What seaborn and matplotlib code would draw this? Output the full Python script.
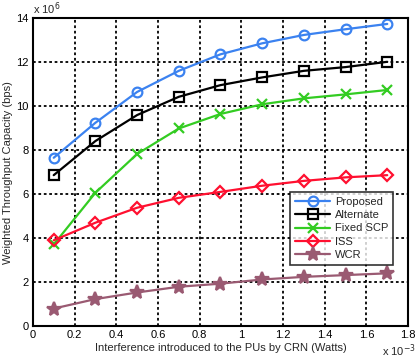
import matplotlib
matplotlib.use("Agg")
import matplotlib.pyplot as plt
import seaborn as sns
import numpy as np

# interference (x 1e-3 W) and throughput (x 1e6 bps)
interference = [0.1, 0.3, 0.5, 0.7, 0.9, 1.1, 1.3, 1.5, 1.7]
proposed = [7.65, 9.24, 10.64, 11.6, 12.35, 12.85, 13.23, 13.49, 13.73]
alternate = [6.86, 8.41, 9.59, 10.42, 10.95, 11.3, 11.6, 11.77, 12.01]
fixed_scp = [3.71, 6.06, 7.82, 8.98, 9.64, 10.08, 10.35, 10.53, 10.73]
iss = [3.9, 4.7, 5.38, 5.83, 6.1, 6.38, 6.6, 6.76, 6.86]
wcr = [0.8, 1.23, 1.53, 1.79, 1.93, 2.12, 2.24, 2.32, 2.4]

sns.set_style("white")
plt.rcParams['font.family'] = ['Liberation Sans', 'DejaVu Sans']

fig = plt.figure(figsize=(4.16, 3.6), dpi=100)
ax = fig.add_axes([0.079, 0.094, 0.902, 0.856])

series = [
    ("Proposed", proposed, "#3b82f0", "o", "none"),
    ("Alternate", alternate, "black", "s", "none"),
    ("Fixed SCP", fixed_scp, "#33cc22", "x", None),
    ("ISS", iss, "#ff1030", "D", "none"),
    ("WCR", wcr, "#9a5a72", "*", None),
]
for name, vals, col, mk, mfc in series:
    kw = dict(markerfacecolor=mfc) if mfc else {}
    ms = 7 if mk != "*" else 10
    if mk == "D":
        ms = 6
    sns.lineplot(x=interference, y=vals, ax=ax, color=col, marker=mk, markersize=ms,
                 markeredgecolor=col, markeredgewidth=1.6, linewidth=1.6, label=name, **kw)

ax.set_xlim(0, 1.8)
ax.set_ylim(0, 14)
ax.set_xticks(np.arange(0, 1.81, 0.2))
ax.set_xticklabels(["0", "0.2", "0.4", "0.6", "0.8", "1", "1.2", "1.4", "1.6", "1.8"])
ax.set_yticks(range(0, 15, 2))
ax.tick_params(labelsize=8, direction="in", length=3, width=1, colors="black", pad=3)
ax.grid(True, color="black", linestyle=(0, (1.5, 1.5)), linewidth=1.3)
for sp in ax.spines.values():
    sp.set_color("black")
    sp.set_linewidth(1.5)

ax.set_xlabel("Interference introduced to the PUs by CRN (Watts)", fontsize=8, labelpad=2)
ax.set_ylabel("Weighted Throughput Capacity (bps)", fontsize=8, labelpad=2)
ax.text(0.0, 1.003, "x 10$^{6}$", transform=ax.transAxes, fontsize=8, va="bottom")
ax.text(0.93, -0.08, "x 10$^{-3}$", transform=ax.transAxes, fontsize=8, va="center")

leg = ax.legend(loc="lower right", bbox_to_anchor=(0.975, 0.18), fontsize=8, frameon=True,
                fancybox=False, edgecolor="black", handlelength=3.2, borderpad=0.45,
                labelspacing=0.3, handletextpad=0.4)
leg.get_frame().set_linewidth(1.2)

plt.savefig("out.png", dpi=100)
